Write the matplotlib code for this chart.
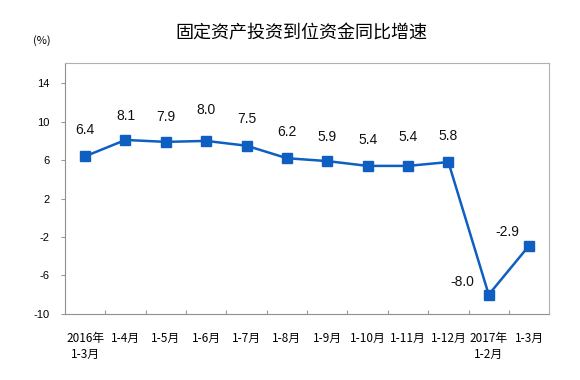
import matplotlib
matplotlib.use("Agg")
from matplotlib import pyplot as plt

plt.rcParams['font.family'] = ['Liberation Sans', 'Noto Sans CJK SC', 'DejaVu Sans']

months = ["2016年\n1-3月", "1-4月", "1-5月", "1-6月", "1-7月", "1-8月", "1-9月",
          "1-10月", "1-11月", "1-12月", "2017年\n1-2月", "1-3月"]
growth = [6.4, 8.1, 7.9, 8.0, 7.5, 6.2, 5.9, 5.4, 5.4, 5.8, -8.0, -2.9]
yticks = [14, 10, 6, 2, -2, -6, -10]
# label offsets in points (dx, dy)
offsets = [(0, 19), (0, 17), (0, 18), (0, 22), (0, 19), (0, 19),
           (0, 17), (0, 19), (0, 21), (0, 19), (-19, 9), (-16, 10)]

fig = plt.figure(figsize=(5.8, 3.8), dpi=100)
ax = fig.add_axes([0.112, 0.174, 0.835, 0.66])

x = list(range(len(growth)))
ax.plot(x, growth, color="#0f5fc2", linewidth=1.8, marker="s",
        markersize=6.5, markerfacecolor="#0f5fc2", markeredgecolor="#0f5fc2")

for i, v in enumerate(growth):
    ax.annotate("%.1f" % v, (i, v), xytext=offsets[i], textcoords="offset points",
                ha="center", va="center", fontsize=10, color="#111111")

ax.set_xlim(-0.5, len(growth) - 0.5)
ax.set_ylim(-10, 16.1)
ax.set_yticks(yticks)
ax.set_yticklabels([str(t) for t in yticks], fontsize=8)
ax.tick_params(axis="y", direction="out", length=3, color="#999999", pad=8)

ax.set_xticks([i + 0.5 for i in range(len(growth) - 1)])
ax.set_xticklabels([])
ax.tick_params(axis="x", direction="in", length=3, color="#999999")
for i, lab in enumerate(months):
    ax.text(i, -11.9, lab, ha="center", va="top", fontsize=8.5,
            family=['Noto Sans CJK SC', 'DejaVu Sans'], linespacing=1.25)

for s in ax.spines.values():
    s.set_color("#b0b0b0")
    s.set_linewidth(0.8)
ax.spines["left"].set_color("#909090")
ax.spines["bottom"].set_color("#909090")

fig.text(0.52, 0.912, "固定资产投资到位资金同比增速", ha="center", va="center",
         fontsize=13, family=['Noto Sans CJK SC', 'DejaVu Sans'])
fig.text(0.072, 0.893, "(%)", ha="center", va="center", fontsize=8,
         family=['Noto Sans CJK SC', 'DejaVu Sans'])

fig.savefig("out.png", dpi=100)
